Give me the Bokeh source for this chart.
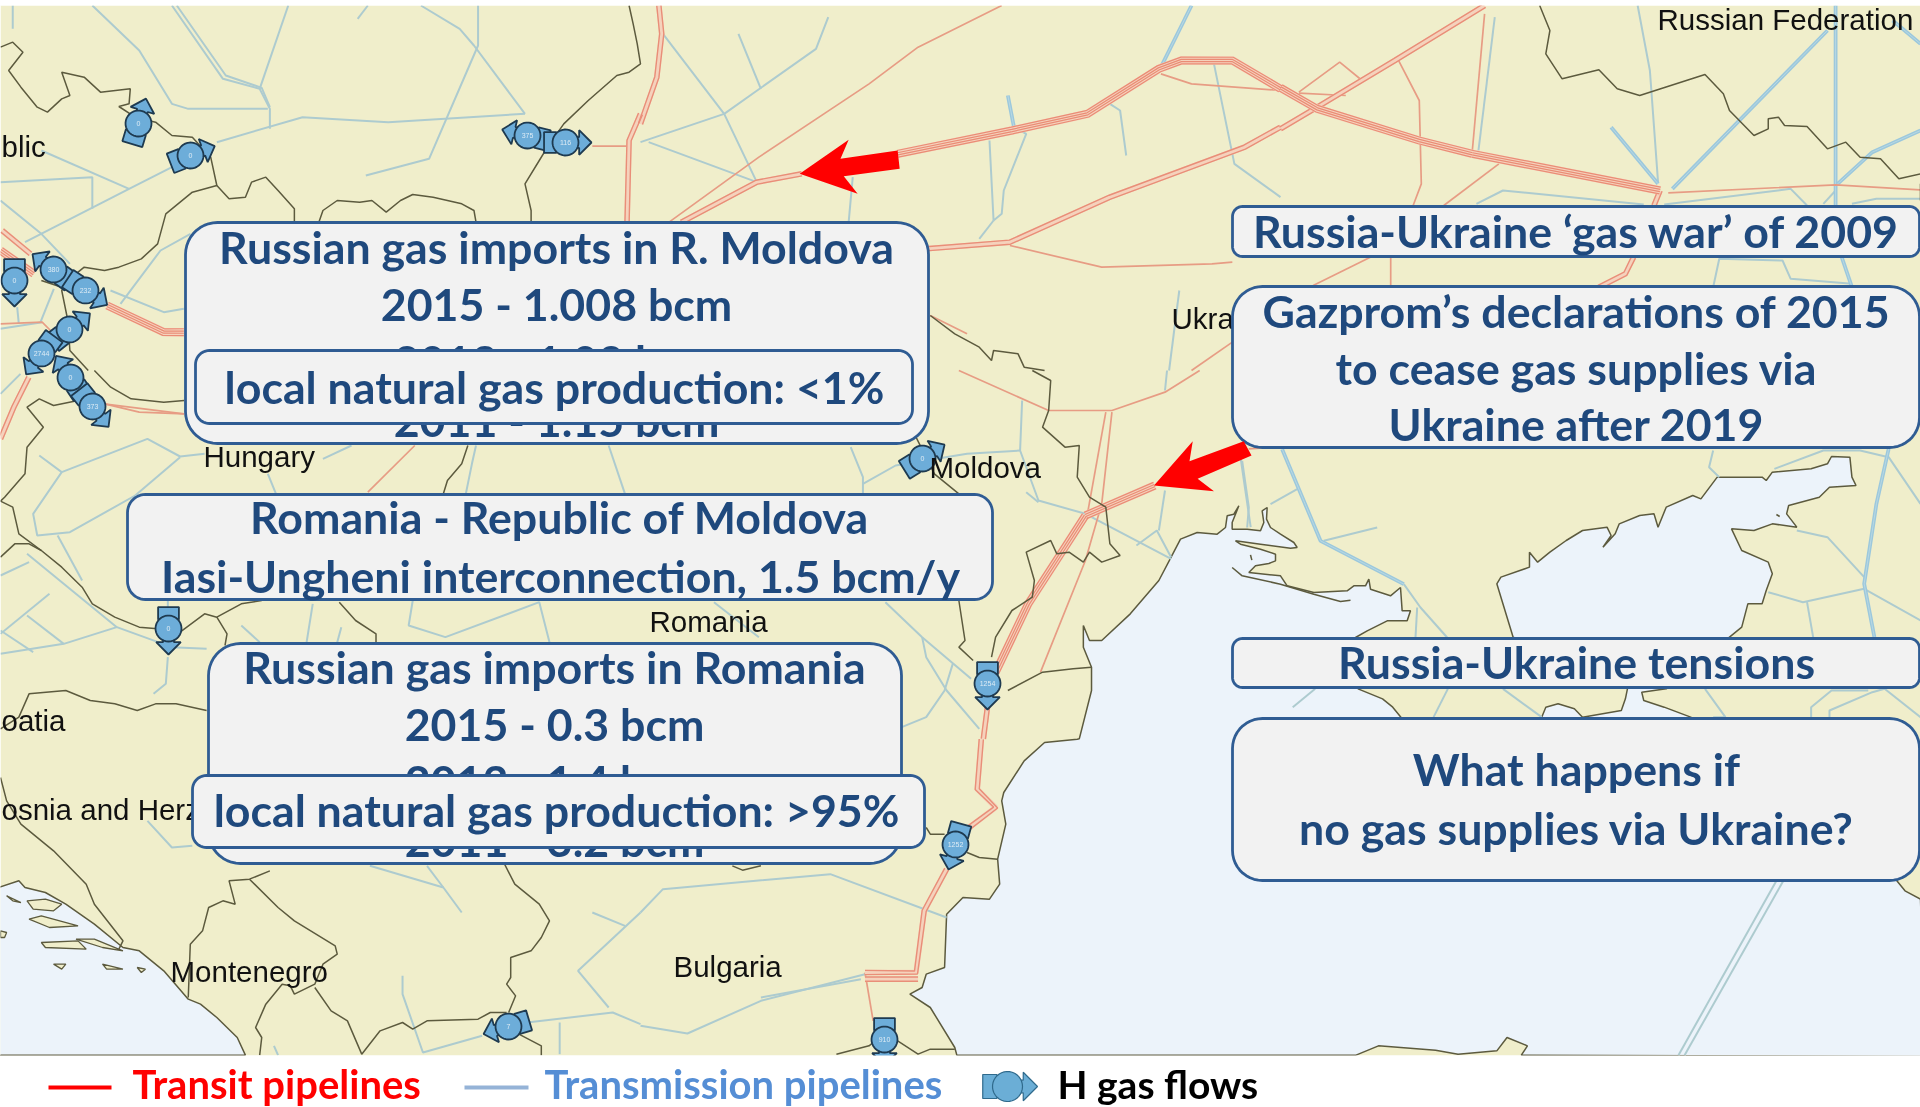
import numpy as np
from bokeh.plotting import figure
from bokeh.models import Range1d
from bokeh.core.properties import value
from bokeh.embed import file_html
from bokeh.resources import INLINE

# ---- tracing sheets: name -> (x offset, y offset, x scale, y scale)
SHEETS = {"A": (0, 0, 2.45, 3), "B": (640, 0, 2.45, 3), "C": (1280, 0, 2.45, 3),
          "D": (0, 370, 2.45, 3), "E": (640, 370, 2.45, 3), "F": (1280, 370, 2.45, 3),
          "G": (0, 737, 2.45, 3), "H": (640, 737, 2.45, 3), "I": (1280, 737, 2.45, 3),
          "J": (1180, 447, 3, 3), "K": (0, 230, 3, 3), "P": (0, 0, 1, 1)}

# ---- map geometry
SEA_OUTLINE = [
    ("H", [(775,953),(770,930),(710,810),(660,770),(690,750),(700,710),(745,690),(750,530),(790,480),(855,485),(880,440),(875,365),(895,260),(885,190),(890,165),(940,70),(990,15),(1070,5)]),
    ("E", [(1075,1105),(1105,960),(1105,890),(1085,830),(1085,765),(1100,810),(1130,810),(1200,730),(1270,630),(1300,560)]),
    ("J", [(0,275),(50,255),(110,260),(135,240),(140,205),(160,200),(175,175),(155,225),(155,245),(200,245),(240,250),(250,225),(245,190),(260,180),(258,215),(270,240),(300,260),(340,285),(350,300),(330,302),(240,290),(165,280),(180,290),(240,305),(285,320),(285,340),(265,348),(225,355),(205,375),(300,385),(320,415),(400,435),(500,430),(520,415),(555,415),(565,395),(570,425),(630,445),(660,420),(665,490),(690,490),(680,520),(620,520),(560,550),(525,570)]),
    ("F", [(190,955),(250,985),(275,1010),(295,1040)]),
    ("P", [(1400,800),(1535,800)]),
    ("F", [(640,1040),(650,1010),(680,1000),(720,1015),(740,1040),(835,1020),(845,985),(850,955),
           (570,800),(555,740),(530,640),(540,620),(610,590),(610,545),(630,575),(660,545),(700,510),(740,480),(800,470),(810,495),(790,530),(820,490),(830,460),(880,435),(915,430),(925,470),(945,410),(1010,375),(1030,385),(1070,320),(1180,320),(1190,330),(1205,305),(1300,295),(1340,280),(1350,258),(1395,260),(1400,320),(1410,345),(1345,350),(1320,380),(1245,405),(1240,430),(1265,470),(1205,460),(1160,480),(1105,475),(1130,540),(1195,575),(1205,610),(1190,660),(1180,700),(1145,700),(1130,770),(1100,800),
           (945,955),(885,965),(890,990),(940,1010),(1005,1040)]),
    ("P", [(1800,800),(1885,800)]),
    ("I", [(1510,430),(1530,460),(1568,485)]),
    ("P", [(1925,1056)]),
    ("I", [(590,953),(605,925),(555,900),(530,940),(435,950),(380,938),(240,925),(185,953)]),
]
ADRIATIC = [("G", [(-5,450),(45,430),(60,450),(110,465),(160,500),(230,560),(300,630),(340,640),(400,700),(460,785),(490,800),(530,840),(580,900),(600,953),(-5,953)])]
ISLANDS = [
    ("G", [(65,490),(110,485),(150,500),(130,520),(80,515)]),
    ("G", [(70,545),(100,535),(190,565),(120,570)]),
    ("G", [(100,615),(190,610),(210,635),(110,630)]),
    ("G", [(130,680),(160,680),(150,695)]),
    ("G", [(250,680),(300,695),(260,695)]),
    ("G", [(15,475),(50,495),(30,490)]),
    ("G", [(0,580),(15,585),(10,600),(0,600)]),
    ("G", [(185,605),(230,605),(300,640),(250,630)]),
    ("G", [(335,690),(355,695),(345,705)]),
]
BORDERS = [
    ("A", [(0,140),(30,125),(55,155),(20,210),(50,260),(90,320),(115,335),(150,295),(170,285),(150,215),(205,230),(245,275),(318,265),(315,310),(290,318),(330,350),(380,365),(420,405),(470,410),(515,470),(530,555),(470,575),(405,640),(385,730),(345,775),(290,800),(255,810),(205,800),(175,830),(150,870),(165,960),(170,1050),(215,1110)]),
    ("A", [(530,555),(560,595),(600,590),(615,545),(650,530),(680,570),(720,625),(720,665)]),
    ("A", [(780,665),(790,630),(825,600),(880,605),(910,600),(945,635),(980,600),(1010,582),(1060,590),(1130,610),(1160,630),(1165,665)]),
    ("A", [(1300,665),(1300,630),(1285,550),(1320,480),(1340,440),(1380,370),(1440,300),(1510,225),(1540,215),(1568,190),(1560,130),(1550,70),(1540,15)]),
    ("A", [(100,840),(150,860)]),
    ("D", [(230,0),(270,50),(320,85),(400,95),(450,90)]),
    ("D", [(190,90),(130,105),(95,85),(65,110),(105,170),(65,230),(60,310),(10,380),(0,392),(30,410),(45,490),(100,540),(150,590),(200,650),(225,700),(280,740),(340,770),(385,775),(440,785),(500,730),(530,740),(590,700),(640,690)]),
    ("D", [(0,560),(35,520),(70,520),(100,540)]),
    ("D", [(530,740),(555,790),(550,825)]),
    ("D", [(830,695),(870,750),(920,790),(920,820)]),
    ("D", [(1085,370),(1095,330),(1130,280),(1145,225)]),
    ("D", [(0,1075),(45,1040),(70,970),(160,960),(220,990),(280,1000),(335,1020),(380,1000),(430,1000),(505,1020)]),
    ("G", [(0,120),(15,190),(50,260),(130,340),(210,440),(230,500),(300,610),(290,635)]),
    ("G", [(660,400),(610,425),(560,430),(575,500),(545,490),(510,510),(495,580),(465,620),(460,780)]),
    ("G", [(610,425),(680,510),(720,550),(820,625),(825,650),(790,680),(770,740),(720,770),(710,745),(690,740),(650,800),(625,870),(640,900),(635,953)]),
    ("G", [(770,750),(810,820),(850,850),(885,950),(930,880),(985,855),(1010,875),(1045,850),(1170,845),(1200,825),(1240,825)]),
    ("G", [(1235,380),(1260,440),(1320,500),(1345,550),(1325,600),(1300,640),(1250,660),(1250,720),(1240,740),(1262,775),(1245,825)]),
    ("G", [(1270,890),(1325,925),(1325,953)]),
    ("H", [(225,385),(250,398),(295,385)]),
    ("H", [(700,270),(710,290),(745,290)]),
    ("H", [(800,345),(830,360),(875,365)]),
    ("H", [(480,950),(560,925),(570,915)]),
    ("H", [(630,910),(680,950),(710,935),(770,935)]),
    ("B", [(710,945),(770,1000),(830,1040),(860,1080),(865,1050),(925,1060),(940,1100),(990,1110)]),
    ("E", [(960,0),(1005,30),(1000,120),(985,170),(1040,230),(1075,225),(1070,320),(1100,380),(1140,410),(1150,520),(1175,555),(1130,575),(1100,545),(1085,575),(1050,545),(1020,550),(1005,510),(945,545),(965,630),(960,680),(910,720),(870,800),(860,860)]),
    ("E", [(675,200),(720,310),(780,370)]),
    ("E", [(780,690),(795,810),(780,830),(815,870)]),
    ("E", [(900,960),(985,905),(1060,895),(1105,890)]),
    ("J", [(155,360),(185,385),(300,410),(400,440),(480,462),(510,458)]),
    ("J", [(210,322),(214,338)]),
    ("C", [(635,15),(660,90),(650,160),(690,235),(780,208),(825,265),(880,285),(1040,222),(1085,280),(1100,330),(1160,405),(1195,385),(1195,355),(1220,350),(1235,375),(1290,378),(1340,445),(1385,425),(1420,470),(1470,475),(1515,535),(1568,520)]),
    ("C", [(1568,550),(1568,600)]),
    ("F", [(0,110),(45,145),(0,165)]),
    ("F", [(1215,432),(1223,438)]),
]
TRANSIT_WIDE = [
    ("K", [(320,225),(490,305),(550,305)]),
    ("B", [(630,460),(910,390),(1095,340),(1270,205),(1325,180),(1450,180),(1568,265)]),
    ("C", [(0,262),(90,325),(340,420),(470,460)]),
    ("K", [(0,60),(100,130)]),
    ("C", [(470,460),(930,570)]),
    ("E", [(1090,435),(1260,345)]),
    ("E", [(1090,435),(1040,530),(950,700),(880,880),(870,905)]),
]
TRANSIT_DOUBLE = [
    ("K", [(5,0),(90,70)]),
    ("K", [(85,440),(40,530),(0,625)]),
    ("B", [(45,15),(52,100),(40,230),(0,370)]),
    ("A", [(1568,340),(1540,420),(1535,665)]),
    ("B", [(100,665),(285,545),(395,520)]),
    ("B", [(700,745),(905,725),(1150,590),(1480,440),(1568,380)]),
    ("C", [(0,385),(90,320),(280,180),(500,15)]),
    ("C", [(930,570),(915,615)]),
    ("C", [(865,770),(845,820),(780,860)]),
    ("E", [(850,1010),(840,1105)]),
    ("H", [(835,5),(825,155),(870,210),(805,270)]),
    ("H", [(750,395),(695,520),(675,705),(550,705)]),
    ("H", [(680,725),(550,725)]),
]
TRANSIT_SINGLE = [
    ("A", [(1450,437),(1535,437)]),
    ("K", [(0,280),(125,275),(150,300)]),
    ("K", [(310,520),(550,550)]),
    ("D", [(255,100),(340,125),(450,130)]),
    ("B", [(885,15),(680,140),(560,250),(290,470),(70,665)]),
    ("B", [(1275,220),(1350,250),(1568,270)]),
    ("B", [(905,735),(1130,800),(1400,790),(1450,785)]),
    ("B", [(710,945),(800,1000)]),
    ("B", [(1350,1110),(1450,1025)]),
    ("C", [(45,275),(145,185),(200,240)]),
    ("C", [(45,278),(160,285)]),
    ("C", [(285,170),(340,300),(345,550),(325,615)]),
    ("C", [(500,40),(470,450)]),
    ("C", [(535,490),(400,615)]),
    ("C", [(950,577),(1360,553),(1568,568)]),
    ("C", [(270,770),(270,860)]),
    ("C", [(220,770),(80,855)]),
    ("C", [(0,770),(60,770)]),
    ("E", [(780,0),(1000,120),(1155,120),(1285,65),(1370,0)]),
    ("E", [(1140,125),(1095,430)]),
    ("E", [(1155,125),(1130,400),(1090,570),(980,905)]),
    ("H", [(550,705),(570,850)]),
    ("D", [(1015,225),(900,365)]),
    ("E", [(1490,235),(1560,230)]),
]
TRANSMISSION_THIN = [
    ("A", [(30,15),(30,85)]),
    ("A", [(225,15),(340,150),(420,310),(460,325),(655,325)]),
    ("A", [(420,15),(545,235),(635,265),(660,325),(660,385)]),
    ("A", [(432,15),(552,225),(640,262),(660,320)]),
    ("A", [(705,15),(635,265)]),
    ("A", [(900,15),(875,55)]),
    ("A", [(1030,15),(1125,85),(1160,135),(1285,340)]),
    ("A", [(1170,15),(1170,135),(1050,475),(895,525)]),
    ("A", [(530,425),(740,350),(950,365),(1285,340)]),
    ("A", [(100,450),(315,565)]),
    ("A", [(0,545),(225,530),(225,625)]),
    ("A", [(420,500),(315,565),(60,725)]),
    ("A", [(0,600),(100,700),(170,790)]),
    ("K", [(330,180),(490,245),(550,235)]),
    ("K", [(360,220),(480,60),(570,10)]),
    ("K", [(160,175),(120,275)]),
    ("K", [(50,230),(55,280)]),
    ("K", [(0,295),(125,275)]),
    ("K", [(0,490),(60,430)]),
    ("B", [(55,100),(205,340),(285,545),(20,425)]),
    ("B", [(460,50),(430,145),(205,340),(0,425)]),
    ("B", [(240,100),(295,265)]),
    ("B", [(520,530),(510,665)]),
    ("B", [(855,420),(865,660),(885,640),(890,570),(945,400),(915,380)]),
    ("B", [(865,660),(830,715)]),
    ("B", [(1150,310),(1175,330),(1190,465)]),
    ("B", [(1405,190),(1455,490),(1568,590)]),
    ("B", [(1320,870),(1295,1110)]),
    ("C", [(525,50),(485,450)]),
    ("C", [(875,15),(905,210),(925,545)]),
    ("C", [(480,610),(545,570),(890,612)]),
    ("C", [(940,612),(1250,565),(1290,615)]),
    ("C", [(1330,610),(1360,570)]),
    ("C", [(1400,610),(1460,595),(1568,595)]),
    ("C", [(1060,860),(1075,775),(1230,780),(1250,835),(1400,850)]),
    ("J", [(670,410),(720,480),(800,570)]),
    ("J", [(350,125),(270,170)]),
    ("J", [(430,280),(590,240)]),
    ("J", [(710,480),(705,570)]),
    ("J", [(185,40),(205,180),(200,240)]),
    ("F", [(1060,240),(1050,290),(1075,320)]),
    ("F", [(1210,295),(1330,240),(1420,240),(1490,260),(1568,400)]),
    ("F", [(1265,480),(1340,500),(1430,620)]),
    ("F", [(1195,665),(1280,695),(1430,655),(1568,750)]),
    ("F", [(1290,695),(1305,800)]),
    ("F", [(30,1010),(85,955)]),
    ("F", [(410,955),(375,1040)]),
    ("F", [(545,955),(640,1040)]),
    ("F", [(1040,955),(1090,1040),(1060,1040)]),
    ("F", [(1300,1040),(1300,1010),(1350,960),(1440,960)]),
    ("F", [(1345,1040),(1345,1020),(1450,965),(1480,955),(1568,1040)]),
    ("I", [(1215,430),(975,953)]),
    ("I", [(1232,430),(990,953)]),
    ("E", [(515,230),(545,320),(545,370)]),
    ("E", [(545,340),(625,285),(800,250),(930,240)]),
    ("E", [(935,90),(930,240),(975,390),(1090,430),(1300,565)]),
    ("E", [(945,365),(975,395)]),
    ("E", [(1215,525),(1265,480),(1300,560)]),
    ("E", [(1270,480),(1285,360)]),
    ("E", [(1470,260),(1495,470)]),
    ("E", [(600,695),(690,800),(810,925)]),
    ("E", [(690,800),(700,860),(750,960),(830,1075)]),
    ("E", [(765,880),(745,960),(700,1040),(640,1070)]),
    ("E", [(1285,60),(1290,0)]),
    ("E", [(180,695),(290,800)]),
    ("D", [(95,255),(150,305),(360,205),(440,258),(500,250)]),
    ("D", [(440,260),(330,375)]),
    ("D", [(150,305),(80,430),(90,495),(170,485),(330,375)]),
    ("D", [(140,495),(200,630)]),
    ("D", [(790,265),(860,225)]),
    ("D", [(655,310),(675,370)]),
    ("D", [(1140,370),(1155,280),(1165,225)]),
    ("D", [(1490,225),(1530,370)]),
    ("D", [(65,550),(285,770),(420,830),(505,835)]),
    ("D", [(0,615),(70,575)]),
    ("D", [(120,670),(0,790)]),
    ("D", [(65,735),(155,820)]),
    ("D", [(0,780),(80,845)]),
    ("D", [(0,850),(155,820),(285,770)]),
    ("D", [(410,860),(405,940),(375,970)]),
    ("D", [(765,700),(750,815)]),
    ("D", [(835,770),(825,815)]),
    ("D", [(590,765),(635,815)]),
    ("D", [(410,690),(410,720)]),
    ("D", [(1010,690),(1000,765),(1090,800),(1320,695),(1345,815)]),
    ("G", [(360,250),(420,330),(470,325)]),
    ("G", [(905,385),(1085,450),(1130,525)]),
    ("G", [(1045,385),(1085,450)]),
    ("G", [(985,715),(985,770),(1035,945),(1180,895)]),
    ("G", [(1290,855),(1500,825),(1568,860)]),
    ("G", [(1370,855),(1370,950)]),
    ("G", [(1450,525),(1530,565)]),
    ("G", [(1568,525),(1415,700),(1490,810)]),
    ("G", [(670,925),(680,953)]),
    ("H", [(0,525),(55,455),(465,410),(750,540)]),
    ("H", [(0,865),(115,888),(295,790),(550,710)]),
    ("H", [(295,780),(540,725)]),
]
TRANSMISSION_THICK = [
    ("B", [(900,285),(915,380)]),
    ("B", [(1350,15),(1275,200)]),
    ("C", [(810,380),(925,550)]),
    ("C", [(1340,90),(960,565)]),
    ("C", [(1360,15),(1360,615)]),
    ("C", [(1568,390),(1450,455),(1365,550)]),
    ("C", [(1500,60),(1568,130)]),
    ("C", [(1375,770),(1400,860)]),
    ("J", [(305,5),(420,280),(670,410)]),
    ("F", [(1490,235),(1460,400),(1430,640),(1455,800)]),
]

# ---- gas flow symbols: centre, arrow tip direction, label
FLOW_X = [138, 190, 527, 565, 14, 53, 85, 69, 41, 70, 92, 168, 922, 987, 955, 884, 508]
FLOW_Y = [123, 155, 135, 142, 280, 269, 290, 329, 353, 377, 406, 628, 458, 683, 844, 1039, 1026]
TIP_X = [144, 208, 506, 584, 14, 38, 100, 83, 30, 60, 103, 168, 938, 987, 950, 884, 488]
TIP_Y = [103, 148, 130, 142, 298, 258, 300, 318, 368, 362, 420, 650, 448, 703, 862, 1060, 1032]
FLOW_TEXT = ["0", "0", "375", "116", "0", "380", "232", "0", "2744", "0", "373", "0", "0", "1254", "1252", "910", "7"]

PLACE_NAMES = ["Russian Federation", "blic", "Ukra", "Hungary", "Moldova", "Romania", "oatia", "osnia and Herz", "Montenegro", "Bulgaria"]
PLACE_X = [1657, 1, 1171, 203, 929, 649, 1, 1, 170, 673]
PLACE_Y = [19, 146, 318, 456, 467, 621, 720, 809, 971, 966]

# ---- call-out boxes: left, right, top, bottom, radius
BOX_LOWER = [(185, 928, 222, 443, 32), (208, 901, 643, 863, 32)]
BOX_UPPER = [(195, 912, 350, 423, 14), (192, 924, 775, 847, 14), (127, 992, 494, 599, 18),
             (1232, 1919, 206, 256, 10), (1232, 1919, 286, 447, 30), (1232, 1919, 638, 687, 10),
             (1232, 1919, 718, 880, 30)]
LOWER_TEXT = ["Russian gas imports in R. Moldova", "2015 - 1.008 bcm", "2013 - 1.09 bcm", "2011 - 1.15 bcm",
              "Russian gas imports in Romania", "2015 - 0.3 bcm", "2013 - 1.4 bcm", "2011 - 3.2 bcm"]
LOWER_X = [556, 556, 556, 556, 554, 554, 554, 554]
LOWER_Y = [246, 303, 360, 419, 666, 723, 780, 839]
UPPER_TEXT = ["local natural gas production: <1%", "local natural gas production: >95%",
              "Romania - Republic of Moldova", "Iasi-Ungheni interconnection, 1.5 bcm/y",
              "Russia-Ukraine ‘gas war’ of 2009", "Gazprom’s declarations of 2015", "to cease gas supplies via",
              "Ukraine after 2019", "Russia-Ukraine tensions", "What happens if", "no gas supplies via Ukraine?"]
UPPER_X = [554, 556, 559, 560, 1576, 1576, 1576, 1576, 1576, 1576, 1576]
UPPER_Y = [386, 809, 516, 575, 230, 310, 367, 423, 661, 768, 827]

# ---- red pointers
RED_ARROWS = [("B", [(390,520),(510,418),(490,475),(630,450),(635,505),(498,527),(532,580)]),
              ("E", [(1258,345),(1353,212),(1345,272),(1478,212),(1497,255),(1365,325),(1405,362)])]

# ---- legend
LEGEND_LINE_X = [[48, 111], [464, 528]]
LEGEND_LINE_Y = [[1087, 1087], [1087, 1087]]
LEGEND_LINE_COLOR = ["#FF0000", "#95B3D7"]
LEGEND_TEXT = ["Transit pipelines", "Transmission pipelines"]
LEGEND_X = [132, 544]
LEGEND_COLOR = ["#FF0000", "#558ED5"]
LEGEND_Y = [1083, 1083]
LEGEND_H_TEXT = ["H gas flows"]
LEGEND_H_X = [1057]
LEGEND_FLOW = (1007, 1086, 1040, 1086)

LAND = "#F0EECB"; SEA = "#ECF3FA"; BORDER = "#5C5A3E"
FONT = "Lato"; SIZE = "44.7px"; NAVY = "#1F497D"


def conv(seg):
    ox, oy, sx, sy = SHEETS[seg[0]]
    return [ox + a / sx for a, b in seg[1]], [oy + b / sy for a, b in seg[1]]

def chain(segs):
    xs, ys = [], []
    for s in segs:
        a, b = conv(s)
        xs += a; ys += b
    return xs, ys

def lines(segs):
    c = [conv(s) for s in segs]
    return [a for a, b in c], [b for a, b in c]

def parallel(xs, ys, d):
    x, y = np.array(xs, float), np.array(ys, float)
    tx, ty = np.gradient(x), np.gradient(y)
    n = np.hypot(tx, ty) + 1e-9
    return list(x - d * ty / n), list(y + d * tx / n)

def bundle(segs, offsets, band, line_w, stripe):
    xs, ys = lines(segs)
    p.multi_line(xs, ys, line_color="#F5D2BC", line_width=band)
    ox, oy = [], []
    for a, b in zip(xs, ys):
        for d in offsets:
            u, v = parallel(a, b, d)
            ox.append(u); oy.append(v)
    p.multi_line(ox, oy, line_color=stripe, line_width=line_w)

def rounded(l, r, t, b, rad):
    ang = np.linspace(0, np.pi / 2, 12)
    xs = list(r - rad + rad * np.sin(ang)) + list(r - rad + rad * np.cos(ang)) + list(l + rad - rad * np.sin(ang)) + list(l + rad - rad * np.cos(ang))
    ys = list(t + rad - rad * np.cos(ang)) + list(b - rad + rad * np.sin(ang)) + list(b - rad + rad * np.cos(ang)) + list(t + rad - rad * np.sin(ang))
    return xs, ys

def flow_parts(x, y, tx, ty, r):
    th = np.arctan2(ty - y, tx - x)
    c, s = np.cos(th), np.sin(th)
    def place(shape):
        arr = np.array(shape) * r
        return list(x + arr[:, 0] * c - arr[:, 1] * s), list(y + arr[:, 0] * s + arr[:, 1] * c)
    tail = [(-1.65, -.8), (-.7, -.8), (-.7, .8), (-1.65, .8)]
    head = [(.7, -.42), (1.05, -.42), (1.05, -.95), (2.0, 0), (1.05, .95), (1.05, .42), (.7, .42)]
    t = np.linspace(0, 2 * np.pi, 36)
    disc = list(zip(np.cos(t), np.sin(t)))
    return place(tail), place(head), place(disc)


p = figure(width=1920, height=1107, output_backend="svg", toolbar_location=None,
           x_range=Range1d(0, 1920), y_range=Range1d(1107, 0), min_border=0,
           outline_line_color=None, background_fill_color="white", border_fill_color="white")
p.axis.visible = False
p.grid.visible = False
p.styles = {"position": "fixed", "left": "0", "top": "0"}

# map base
p.quad(left=[0], right=[1920], top=[5], bottom=[1055], fill_color=LAND, line_color=None)
sx, sy = chain(SEA_OUTLINE)
ax, ay = chain(ADRIATIC)
p.patches([sx, ax], [sy, ay], fill_color=SEA, line_color=BORDER, line_width=1.5)
ix, iy = lines(ISLANDS)
p.patches(ix, iy, fill_color=LAND, line_color=BORDER, line_width=1.3)

# pipelines
xs, ys = lines(TRANSMISSION_THIN)
p.multi_line(xs, ys, line_color="#ADCBCF", line_width=2)
xs, ys = lines(TRANSMISSION_THICK)
p.multi_line(xs, ys, line_color="#9CC8DC", line_width=3.8)
p.multi_line(xs, ys, line_color="#BBD9E3", line_width=0.9)
xs, ys = lines(TRANSIT_SINGLE)
p.multi_line(xs, ys, line_color="#E79C84", line_width=1.7)
bundle(TRANSIT_DOUBLE, [-2.1, 2.1], 5.5, 1.4, "#E98E78")
bundle(TRANSIT_WIDE, [-3.4, -1.1, 1.1, 3.4], 8.5, 1.2, "#EA8C75")

# national borders
xs, ys = lines(BORDERS)
p.multi_line(xs, ys, line_color=BORDER, line_width=1.5)

# flows
parts = [flow_parts(a, b, c, d, 13) for a, b, c, d in zip(FLOW_X, FLOW_Y, TIP_X, TIP_Y)]
for k in (0, 1, 2):
    p.patches([q[k][0] for q in parts], [q[k][1] for q in parts], fill_color="#6DADD9",
              line_color="#1E3A50", line_width=1.8)
p.text(x=FLOW_X, y=FLOW_Y, text=FLOW_TEXT, text_color="#DCEBF5", text_font=value("Liberation Sans"),
       text_font_size="7px", text_align="center", text_baseline="middle")

# place names
p.text(x=PLACE_X, y=PLACE_Y, text=PLACE_NAMES, text_color="#111111", text_font=value("Liberation Sans"),
       text_font_size="29.5px", text_align="left", text_baseline="middle")

# white margins of the map
p.quad(left=[0, 0], right=[1920, 1920], top=[0, 1055], bottom=[5, 1107], fill_color="white", line_color=None)

def draw_boxes(boxes):
    r = [rounded(*b) for b in boxes]
    p.patches([a for a, _ in r], [c for _, c in r], fill_color="#F2F2F2", line_color="#2F5C93", line_width=2.8)

def draw_text(x, y, t, color=NAVY):
    p.text(x=x, y=y, text=t, text_color=color, text_font=value(FONT), text_font_style="bold",
           text_font_size=SIZE, text_align="center", text_baseline="middle")

draw_boxes(BOX_LOWER)
draw_text(LOWER_X, LOWER_Y, LOWER_TEXT)
draw_boxes(BOX_UPPER)
draw_text(UPPER_X, UPPER_Y, UPPER_TEXT)

# red pointers
xs, ys = lines(RED_ARROWS)
p.patches(xs, ys, fill_color="#FF0000", line_color=None)

# legend
p.multi_line(LEGEND_LINE_X, LEGEND_LINE_Y, line_color=LEGEND_LINE_COLOR, line_width=4)
lt, lh, ld = flow_parts(*LEGEND_FLOW, 15)
p.patches([lt[0], lh[0], ld[0]], [lt[1], lh[1], ld[1]], fill_color="#6BAED6", line_color="#2F6A8C", line_width=1.2)
p.text(x=LEGEND_X, y=LEGEND_Y, text=LEGEND_TEXT, text_color=LEGEND_COLOR, text_font=value(FONT), text_font_style="bold",
       text_font_size="40px", text_align="left", text_baseline="middle")
p.text(x=LEGEND_H_X, y=LEGEND_Y[:1], text=LEGEND_H_TEXT, text_color="#000000", text_font=value(FONT), text_font_style="bold",
       text_font_size="39px", text_align="left", text_baseline="middle")

open("out.html", "w").write(file_html(p, INLINE))
